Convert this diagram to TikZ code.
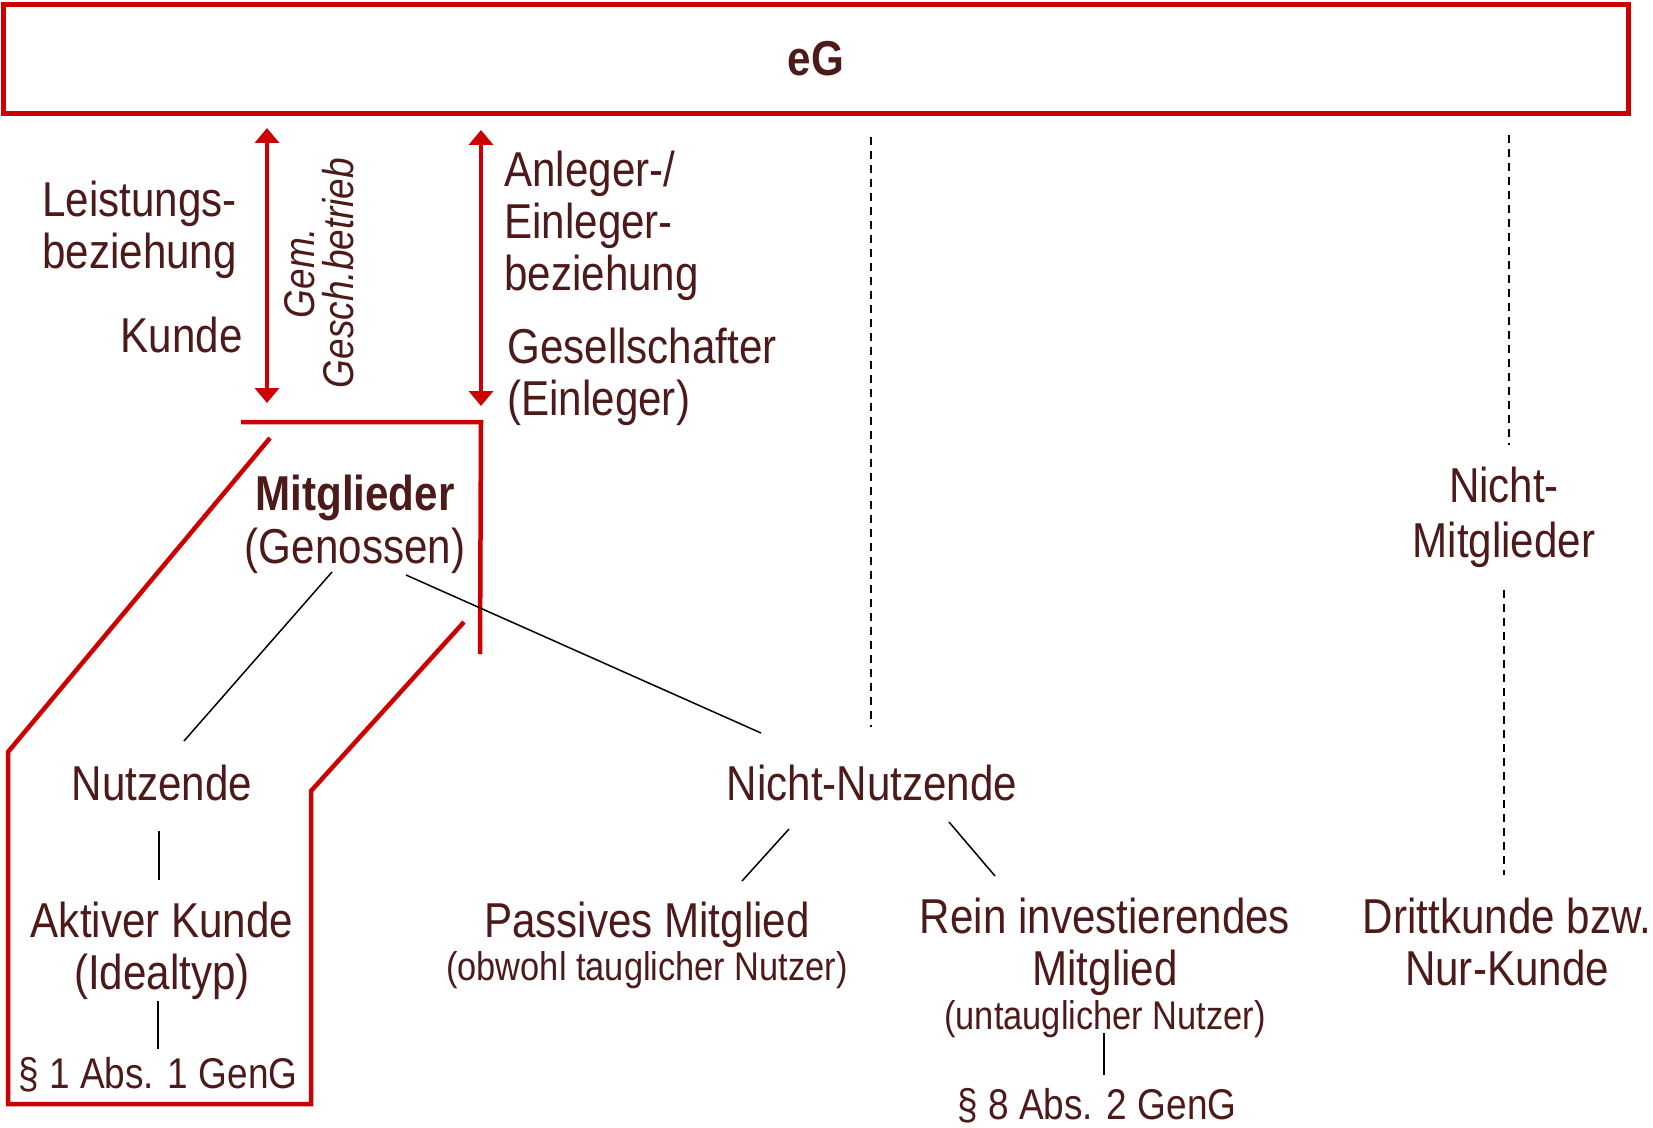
\documentclass[tikz,border=0pt]{standalone}
\usepackage{fontspec}
\setmainfont{Liberation Sans}[FakeStretch=0.86]
\usetikzlibrary{arrows.meta}
\definecolor{Braun}{HTML}{4D1A1A}
\definecolor{Rot}{HTML}{CC0000}

\begin{document}
\begin{tikzpicture}[
  x=0.5pt,y=-0.5pt,
  every node/.style={text=Braun,inner sep=0pt},
  txt/.style={font=\fontsize{24.5}{26}\selectfont,align=center},
  klein/.style={font=\fontsize{20}{22}\selectfont},
  para/.style={font=\fontsize{21.5}{23}\selectfont},
  egbox/.style={draw=Rot,line width=2.5pt,font=\fontsize{24.5}{26}\selectfont\bfseries,
    minimum width=812.75pt,minimum height=54.25pt},
  rahmen/.style={draw=Rot,line width=2.25pt},
  pfeil/.style={{Triangle[length=7.5pt,width=12pt]}-{Triangle[length=7.5pt,width=12pt]},
    draw=Rot,line width=2.25pt},
  link/.style={draw=black,line width=0.75pt},
  strich/.style={draw=black,line width=0.75pt,dash pattern=on 4pt off 3pt}
]
  \useasboundingbox (0,0) rectangle (1653,1128);

  % Genossenschaft
  \node[egbox] (eg) at (816,59) {eG};

  % Beziehungen
  \node[txt,align=left,anchor=west] (leist) at (42,230) {Leistungs-\\beziehung};
  \node[txt,anchor=east] (kunde) at (243,335) {Kunde};
  \node[font=\fontsize{21.5}{19.5}\selectfont\itshape,align=center,rotate=90]
    (gem) at (319,273) {Gem.\\Gesch.betrieb};
  \node[txt,align=left,anchor=west] (anleg) at (504,225.5) {Anleger-/\\Einleger-\\beziehung};
  \node[txt,align=left,anchor=west] (gesell) at (507,376.5) {Gesellschafter\\(Einleger)};

  \coordinate (p1o) at (267,128);
  \coordinate (p1u) at (267,403);
  \coordinate (p2o) at (481,130);
  \coordinate (p2u) at (481,406);
  \draw[pfeil] (p1o) -- (p1u);
  \draw[pfeil] (p2o) -- (p2u);

  % Mitgliederkreis
  \draw[rahmen] (241,422) -- (481,422) -- (480,654);
  \draw[rahmen] (270,438) -- (8,752) -- (8,1104) -- (311,1104) -- (311,791) -- (464,622);

  \node[txt] (mitgl) at (355,524) {\textbf{Mitglieder}\\[0.5pt](Genossen)};
  \node[txt] (nutz) at (162,783) {Nutzende};
  \node[txt] (aktiv) at (162,950.5) {Aktiver Kunde\\(Idealtyp)};
  \node[para] (par1) at (158,1075) {§ 1 Abs. 1 GenG};
  \node[txt] (nichtn) at (872,783) {Nicht-Nutzende};
  \node[txt] (passiv) at (647,945)
    {Passives Mitglied\\[-4.6pt]{\fontsize{20}{22}\selectfont(obwohl tauglicher Nutzer)}};
  \node[txt] (rein) at (1105,968)
    {Rein investierendes\\Mitglied\\[-4pt]{\fontsize{20}{22}\selectfont(untauglicher Nutzer)}};
  \node[para] (par8) at (1097,1106) {§ 8 Abs. 2 GenG};

  % Nicht-Mitglieder
  \node[txt] (nichtm) at (1504,517) {Nicht-\\[1.5pt]Mitglieder};
  \node[txt] (dritt) at (1507,942) {Drittkunde bzw.\\Nur-Kunde};

  \draw[link] ([xshift=-11.5pt,yshift=-24pt]mitgl.center) -- ([xshift=11pt,yshift=21pt]nutz.center);
  \draw[link] ([xshift=25.5pt,yshift=-25.5pt]mitgl.center) -- ([xshift=-55.5pt,yshift=25pt]nichtn.center);
  \draw[link] ([xshift=-1.5pt,yshift=-24pt]nutz.center) -- ([xshift=-1.5pt,yshift=35.25pt]aktiv.center);
  \draw[link] ([xshift=-2pt,yshift=-25.25pt]aktiv.center) -- ([yshift=13pt]par1.center);
  \draw[link] ([xshift=-41.5pt,yshift=-23pt]nichtn.center) -- ([xshift=47.5pt,yshift=32pt]passiv.center);
  \draw[link] ([xshift=38.5pt,yshift=-19.5pt]nichtn.center) -- ([xshift=-55pt,yshift=46pt]rein.center);
  \draw[link] ([xshift=-0.5pt,yshift=-32.5pt]rein.center) -- ([xshift=3.5pt,yshift=15.5pt]par8.center);

  \coordinate (d1) at (871,137);
  \coordinate (d2) at (1509,135);
  \draw[strich] (d1) -- ([xshift=-0.5pt,yshift=28pt]nichtn.center);
  \draw[strich] (d2) -- ([xshift=2.5pt,yshift=36pt]nichtm.center);
  \draw[strich] ([yshift=-36.5pt]nichtm.center) -- ([xshift=-1.5pt,yshift=33.5pt]dritt.center);
\end{tikzpicture}
\end{document}
